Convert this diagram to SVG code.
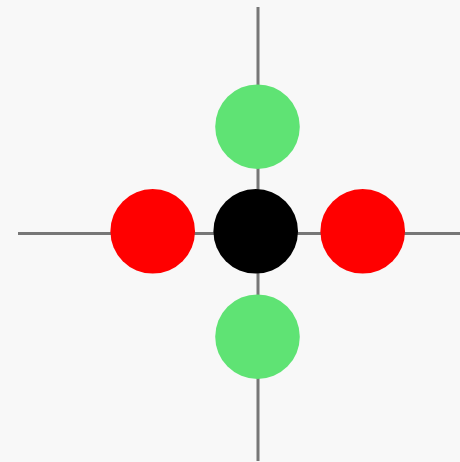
<svg xmlns="http://www.w3.org/2000/svg" width="460" height="462" viewBox="0 0 460 462">
<style>
.ln{stroke:#777;stroke-width:3;fill:none}
.red{fill:#ff0000}
.green{fill:#5fe374}
.black{fill:#000}
</style>
<rect width="460" height="462" fill="#f8f8f8"/>
<g id="connectors">
<line class="ln" x1="258" y1="7" x2="258" y2="461"/>
<line class="ln" x1="18" y1="233.5" x2="460" y2="233.5"/>
</g>
<g id="node-top"><circle class="green" cx="257.5" cy="126.7" r="42.3"/></g>
<g id="node-bottom"><circle class="green" cx="257.5" cy="336.7" r="42.3"/></g>
<g id="node-left"><circle class="red" cx="152.7" cy="231.3" r="42.3"/></g>
<g id="node-right"><circle class="red" cx="362.7" cy="231.3" r="42.3"/></g>
<g id="node-center"><circle class="black" cx="255.7" cy="231.3" r="42.3"/></g>
</svg>
